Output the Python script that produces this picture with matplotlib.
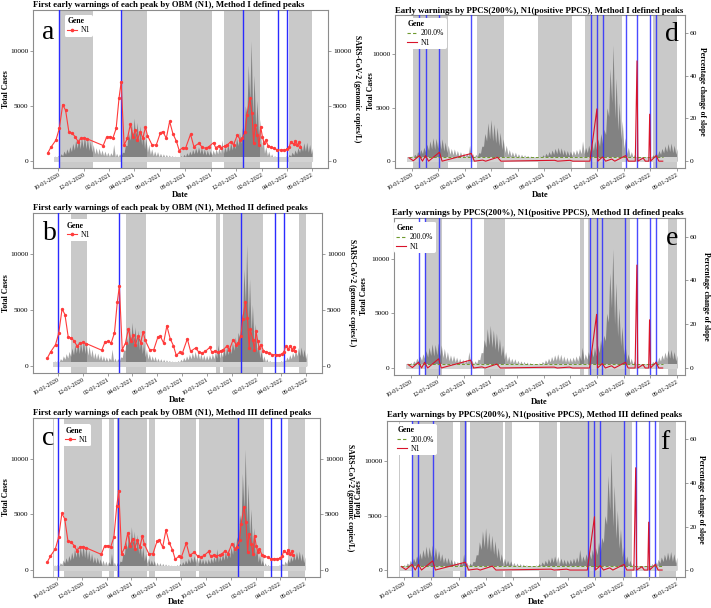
import matplotlib.pyplot as plt
import matplotlib.dates as mdates
from matplotlib.lines import Line2D
import pandas as pd

plt.rcParams['font.family'] = ['Liberation Serif', 'DejaVu Serif']

# daily cases, summarised per week: low day (week start) and high day (mid week)
case_week_start = '2020-09-21'
cases_hi = [450, 500, 650, 900, 1100, 1300, 1600, 1900, 2200, 2150, 2300, 2100, 1800, 1500,
            1200, 1150, 1000, 900, 800, 750, 1500, 700, 650, 800, 1400, 2600, 3600, 3900,
            3500, 3200, 2700, 2100, 1500, 1100, 900, 850, 700, 650, 600, 550, 500, 450,
            420, 480, 600, 750, 900, 1050, 1200, 1300, 1250, 1100, 1000, 950, 1000, 1100,
            1200, 1900, 1300, 1500, 1700, 1900, 2100, 2600, 3000, 5000, 8700, 10900, 7800,
            5500, 3800, 2200, 1300, 900, 650, 500, 420, 380, 400, 480, 600, 800, 1000,
            1200, 1450, 1650, 1700, 1500, 1200]
cases_lo = [250, 280, 350, 480, 600, 700, 850, 1000, 1150, 1100, 1200, 1100, 950, 800,
            650, 600, 550, 480, 430, 400, 500, 380, 350, 420, 750, 1400, 1900, 2100,
            1900, 1700, 1450, 1100, 800, 600, 480, 450, 380, 350, 320, 300, 280, 250,
            230, 260, 320, 400, 480, 560, 640, 700, 670, 590, 540, 510, 540, 590,
            640, 700, 700, 800, 900, 1000, 1100, 1400, 1600, 2500, 4200, 5500, 4000,
            2900, 2000, 1200, 700, 480, 350, 270, 230, 210, 220, 260, 320, 430, 540,
            640, 780, 880, 900, 800, 650]

# N1 wastewater concentration (genomic copies/L)
n1_dates = ['2020-09-06', '2020-09-14', '2020-09-26', '2020-10-04', '2020-10-12', '2020-10-19',
            '2020-10-27', '2020-11-04', '2020-11-11', '2020-11-18', '2020-11-25', '2020-12-02',
            '2020-12-10', '2021-01-17', '2021-01-25', '2021-02-02', '2021-02-09', '2021-02-17',
            '2021-02-24', '2021-03-01', '2021-03-08', '2021-03-16', '2021-03-23', '2021-03-29',
            '2021-04-04', '2021-04-09', '2021-04-16', '2021-04-22', '2021-04-28', '2021-05-03',
            '2021-05-14', '2021-05-24', '2021-06-03', '2021-06-09', '2021-06-17', '2021-06-25',
            '2021-07-03', '2021-07-11', '2021-07-18', '2021-07-26', '2021-08-02', '2021-08-14',
            '2021-08-22', '2021-09-03', '2021-09-11', '2021-09-19', '2021-09-27', '2021-10-08',
            '2021-10-13', '2021-10-21', '2021-10-27', '2021-11-04', '2021-11-10', '2021-11-18',
            '2021-11-25', '2021-12-04', '2021-12-11', '2021-12-16', '2021-12-23', '2021-12-27',
            '2022-01-03', '2022-01-08', '2022-01-12', '2022-01-15', '2022-01-21', '2022-01-25',
            '2022-01-29', '2022-02-02', '2022-02-06', '2022-02-10', '2022-02-16', '2022-02-22',
            '2022-03-02', '2022-03-10', '2022-03-18', '2022-03-26', '2022-04-02', '2022-04-07',
            '2022-04-11', '2022-04-18', '2022-04-22', '2022-04-27', '2022-05-01', '2022-05-04']
n1_vals = [700, 1250, 1900, 2950, 5100, 4600,
           2600, 2500, 2200, 1750, 2050, 2100,
           2000, 1400, 2150, 2200, 2050, 2950,
           5750, 7150, 1450, 2050, 3320, 2200,
           2810, 1900, 2660, 2050, 3050, 2300,
           1450, 1450, 2570, 2660, 2050, 3590,
           2450, 1810, 940, 1210, 1150, 2420,
           1300, 1600, 1240, 1150, 1300, 1660,
           1210, 1360, 1210, 1360, 1450, 1750,
           1450, 2360, 1900, 2050, 2660, 4170,
           5680, 4320, 1600, 3260, 2360, 1450,
           3100, 2200, 1600, 1900, 1360, 1240,
           1150, 1000, 1000, 1000, 1060, 1240,
           1750, 1510, 1810, 1450, 1690, 1300]

# percentage change of slope (PPCS) of N1
ppcs_dates = ['2020-09-25', '2020-10-05', '2020-10-19', '2020-10-26', '2020-11-02', '2020-11-09',
              '2020-12-04', '2020-12-10', '2021-02-15', '2021-02-22', '2021-03-13', '2021-03-20',
              '2021-04-16', '2021-04-24', '2021-08-25', '2021-09-01', '2021-09-29', '2021-10-06',
              '2021-11-14', '2021-11-30', '2021-12-02', '2021-12-13', '2021-12-20', '2022-01-03',
              '2022-01-10', '2022-02-04', '2022-02-10', '2022-02-26', '2022-03-02', '2022-03-04',
              '2022-03-16', '2022-03-21', '2022-03-29', '2022-03-31', '2022-04-02', '2022-04-15',
              '2022-04-21', '2022-04-30']
ppcs_vals = [1.6, 0.2, 2.6, 0.0, 2.6, 0.0,
             4.2, 0.0, 3.6, 0.0, 0.5, 0.0,
             1.8, 0.0, 0.4, 0.0, 0.4, 0.0,
             0.0, 24.5, 0.0, 2.0, 0.0, 1.0,
             0.0, 2.6, 0.0, 0.0, 47.0, 0.0,
             1.5, 0.0, 0.0, 22.0, 0.0, 2.6,
             0.0, 0.0]
ppcs_threshold = 2.0

# peak periods by method
peaks_m1 = [('2020-10-05', '2020-12-24'), ('2021-03-01', '2021-05-02'), ('2021-07-19', '2021-10-04'),
            ('2021-11-02', '2022-01-27'), ('2022-04-07', '2022-06-01')]
peaks_m2 = [('2020-11-02', '2020-12-12'), ('2021-03-17', '2021-05-05'), ('2021-10-22', '2021-11-01'),
            ('2021-11-10', '2022-02-15'), ('2022-05-13', '2022-06-01')]
peaks_m3 = [('2020-09-20', '2020-09-22'), ('2020-10-18', '2021-01-18'), ('2021-02-04', '2021-02-18'),
            ('2021-02-25', '2021-05-09'), ('2021-05-14', '2021-05-30'), ('2021-07-29', '2021-09-08'),
            ('2021-09-14', '2022-02-21'), ('2022-04-22', '2022-06-01')]

# early warnings
obm_warn_a = ['2020-10-03', '2021-03-01', '2021-12-18', '2022-03-11', '2022-04-02']
obm_warn_b = ['2020-10-02', '2021-02-28', '2021-12-22', '2022-03-15', '2022-04-08']
obm_warn_c = ['2020-10-02', '2021-02-26', '2021-12-19', '2022-03-11', '2022-04-03']
ppcs_warn = ['2020-10-19', '2020-11-02', '2020-12-04', '2021-02-15', '2021-11-16', '2021-11-30',
             '2021-12-13', '2022-02-04', '2022-03-02', '2022-03-31', '2022-04-15']

W, H = 711, 608
fig = plt.figure(figsize=(W / 100, H / 100), dpi=100)

RECT = '#c9c9c9'
BLUE = '#2b2bff'
RED = '#ff3b3b'
RED2 = '#d9132a'
GREEN = '#6e9a2e'

weeks = pd.date_range(case_week_start, periods=len(cases_hi), freq='7D')
case_x, case_y = [], []
for w, lo, hi in zip(weeks, cases_lo, cases_hi):
    case_x += [w, w + pd.Timedelta(days=3)]
    case_y += [lo, hi]

n1_x = pd.to_datetime(n1_dates)
ppcs_x = pd.to_datetime(ppcs_dates)

ylim = (-640, 13700)
xlim_left = (pd.Timestamp('2020-08-02'), pd.Timestamp('2022-07-09'))
xlim_right = (pd.Timestamp('2020-08-24'), pd.Timestamp('2022-06-20'))


def make_axes(l, r, t, b):
    return fig.add_axes([l / W, 1 - b / H, (r - l) / W, (b - t) / H])


def base_panel(ax, peaks, xlim):
    for s, e in peaks:
        ax.axvspan(pd.Timestamp(s), pd.Timestamp(e), color=RECT, lw=0, zorder=0)
    ax.fill_between(case_x, 0, case_y, color='black', alpha=0.35, lw=0, zorder=2)
    ax.fill_between([case_x[0], case_x[-1]], -80, 360, color='#d2d2d2', lw=0, zorder=2.5)
    ax.set_xlim(xlim)
    ax.set_ylim(ylim)
    ax.set_yticks([0, 5000, 10000])
    ax.xaxis.set_major_locator(mdates.MonthLocator(bymonth=[2, 4, 6, 8, 10, 12]))
    ax.xaxis.set_major_formatter(mdates.DateFormatter('%m-%d-%Y'))
    ax.tick_params(axis='x', labelsize=4.4, length=2, width=0.5, color='#777777', pad=1)
    ax.tick_params(axis='y', labelsize=5.3, length=2, width=0.5, color='#777777', pad=1.5)
    for lab in ax.get_xticklabels():
        lab.set_rotation(30)
        lab.set_ha('right')
        lab.set_rotation_mode('anchor')
    for sp in ax.spines.values():
        sp.set_color('#8c8c8c')
        sp.set_linewidth(0.8)


def texts(ax, l, r, t, b, title, title_xy, date_y, ylab_x, rlab, rlab_x, letter, letter_xy):
    fig.text(title_xy[0] / W, 1 - title_xy[1] / H, title, ha='left', va='center',
             fontsize=6.3, fontweight='bold')
    fig.text((l + r) / 2 / W, 1 - date_y / H, 'Date', ha='center', va='center',
             fontsize=6, fontweight='bold')
    fig.text(ylab_x / W, 1 - (t + b) / 2 / H, 'Total Cases', ha='center', va='center',
             rotation=90, fontsize=5.6, fontweight='bold')
    fig.text(rlab_x / W, 1 - (t + b) / 2 / H, rlab, ha='center', va='center',
             rotation=270, fontsize=5.6, fontweight='bold')
    ax.text(letter_xy[0], letter_xy[1], letter, transform=ax.transAxes, ha='center',
            va='center', fontsize=20, zorder=10)


def legend_box(ax, handles, labels, x0, top):
    leg = ax.legend(handles, labels, title='Gene', loc='upper left', bbox_to_anchor=(x0, top),
                    fontsize=5.5, frameon=True, facecolor='white', edgecolor='none',
                    framealpha=1, handlelength=1.3, handletextpad=0.5, borderpad=0.3,
                    labelspacing=0.15, alignment='left', borderaxespad=0)
    leg.get_title().set_fontweight('bold')
    leg.get_title().set_fontsize(5.5)
    leg.set_zorder(20)


# left column: OBM on N1
left_specs = [
    (33, 328, 10, 168, peaks_m1, obm_warn_a, 'a', (0.05, 0.86), (0.108, 0.968),
     'First early warnings of each peak by OBM (N1), Method I defined peaks', (33, 5), 195, 6, 357),
    (33, 322, 213, 373, peaks_m2, obm_warn_b, 'b', (0.06, 0.875), (0.11, 0.96),
     'First early warnings of each peak by OBM (N1), Method II defined peaks', (33, 208), 400, 6, 352),
    (33, 320, 418, 577, peaks_m3, obm_warn_c, 'c', (0.052, 0.87), (0.105, 0.96),
     'First early warnings of each peak by OBM (N1), Method III defined peaks', (33, 413), 602, 6, 350),
]
for l, r, t, b, peaks, warns, letter, lxy, legxy, title, txy, dy, ylx, rlx in left_specs:
    ax = make_axes(l, r, t, b)
    base_panel(ax, peaks, xlim_left)
    for d in warns:
        ax.axvline(pd.Timestamp(d), color=BLUE, lw=1.0, zorder=4)
    ax.plot(n1_x, n1_vals, color=RED, lw=0.8, marker='o', ms=1.4, zorder=5)
    ax2 = ax.twinx()
    ax2.set_ylim(ylim)
    ax2.set_yticks([0, 5000, 10000])
    ax2.tick_params(axis='y', labelsize=5.3, length=2, width=0.5, color='#777777', pad=1.5)
    for sp in ax2.spines.values():
        sp.set_visible(False)
    handles = [Line2D([], [], color=RED, lw=0.8, marker='o', ms=1.6)]
    legend_box(ax2, handles, ['N1'], *legxy)
    texts(ax, l, r, t, b, title, txy, dy, ylx, 'SARS-CoV-2 (genomic copies/L)', rlx, letter, lxy)

# right column: PPCS on N1
right_specs = [
    (395, 685, 15, 168, peaks_m1, 'd', (0.954, 0.87), (0.034, 0.98),
     'Early warnings by PPCS(200%), N1(positive PPCS), Method I defined peaks', (395, 11), 195, 371, 702),
    (394, 685, 218, 375, peaks_m2, 'e', (0.955, 0.87), (0.0, 0.975),
     'Early warnings by PPCS(200%), N1(positive PPCS), Method II defined peaks', (392, 213), 402, 364, 706),
    (387, 685, 421, 577, peaks_m3, 'f', (0.933, 0.865), (0.027, 0.98),
     'Early warnings by PPCS(200%), N1(positive PPCS), Method III defined peaks', (387, 415), 602, 359, 701),
]
for l, r, t, b, peaks, letter, lxy, legxy, title, txy, dy, ylx, rlx in right_specs:
    ax = make_axes(l, r, t, b)
    base_panel(ax, peaks, xlim_right)
    for d in ppcs_warn:
        ax.axvline(pd.Timestamp(d), color=BLUE, lw=1.0, alpha=0.85, zorder=4)
    ax2 = ax.twinx()
    ax2.set_ylim(ylim[0] / 200, ylim[1] / 200)
    ax2.set_yticks([0, 20, 40, 60])
    ax2.tick_params(axis='y', labelsize=5.3, length=2, width=0.5, color='#777777', pad=1.5)
    for sp in ax2.spines.values():
        sp.set_visible(False)
    ax2.plot([ppcs_x[0], ppcs_x[-1]], [ppcs_threshold, ppcs_threshold], color=GREEN, lw=0.7,
             ls=(0, (3, 2)), zorder=5)
    ax2.plot(ppcs_x, ppcs_vals, color=RED2, lw=0.8, zorder=6)
    handles = [Line2D([], [], color=GREEN, lw=0.8, ls=(0, (3, 2))),
               Line2D([], [], color=RED2, lw=0.8)]
    legend_box(ax2, handles, ['200.0%', 'N1'], *legxy)
    texts(ax, l, r, t, b, title, txy, dy, ylx, 'Percentage change of slope', rlx, letter, lxy)

fig.savefig('out.png', dpi=100)
